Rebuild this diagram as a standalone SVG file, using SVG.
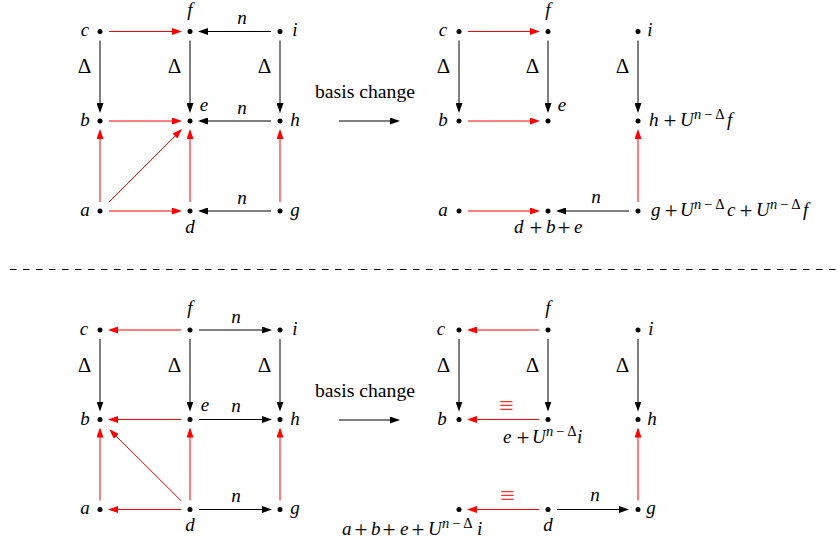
<svg xmlns="http://www.w3.org/2000/svg" width="838" height="546" viewBox="0 0 838 546">
<defs>
<style>
.m{font-family:"Liberation Serif",serif;font-style:italic;font-size:19px;fill:#000}
.r{font-family:"Liberation Serif",serif;font-size:19px;fill:#000}
.p{font-family:"Liberation Serif",serif;font-size:23px;fill:#000;text-anchor:middle}
.D{font-family:"Liberation Serif",serif;font-size:21px;fill:#000;text-anchor:middle}
.s{font-family:"Liberation Serif",serif;font-size:14.5px;fill:#000}
.c{text-anchor:middle}
.eq{font-family:"Liberation Serif",serif;font-size:26px;fill:#ff3030;text-anchor:middle}
.k{stroke:#000;stroke-width:1;fill:none;marker-end:url(#ab)}
.rd{stroke:#ff0000;stroke-width:1;fill:none;marker-end:url(#ar)}
.dot{fill:#000}
</style>
<marker id="ab" markerWidth="10" markerHeight="7" refX="8" refY="3.5" orient="auto" markerUnits="userSpaceOnUse"><path d="M0,0 L10,3.5 L0,7 z" fill="#000"/></marker>
<marker id="ar" markerWidth="10" markerHeight="7" refX="8" refY="3.5" orient="auto" markerUnits="userSpaceOnUse"><path d="M0,0 L10,3.5 L0,7 z" fill="#ff0000"/></marker>
</defs>

<g id="connectors">
<line class="rd" x1="109" y1="31.5" x2="180" y2="31.5"/>
<line class="k" x1="271" y1="31.5" x2="200" y2="31.5"/>
<line class="rd" x1="109" y1="121" x2="180" y2="121"/>
<line class="k" x1="271" y1="121" x2="200" y2="121"/>
<line class="rd" x1="109" y1="211" x2="180" y2="211"/>
<line class="k" x1="271" y1="211" x2="200" y2="211"/>
<line class="k" x1="100" y1="40.5" x2="100" y2="111"/>
<line class="k" x1="190" y1="40.5" x2="190" y2="111"/>
<line class="k" x1="280" y1="40.5" x2="280" y2="111"/>
<line class="rd" x1="100" y1="202" x2="100" y2="131"/>
<line class="rd" x1="190" y1="202" x2="190" y2="131"/>
<line class="rd" x1="280" y1="202" x2="280" y2="131"/>
<line class="rd" x1="109" y1="202" x2="180.6" y2="130.4"/>
<line class="k" x1="339" y1="121" x2="398" y2="121"/>
<line class="rd" x1="468" y1="31.5" x2="538" y2="31.5"/>
<line class="k" x1="459" y1="40.5" x2="459" y2="111"/>
<line class="k" x1="548" y1="40.5" x2="548" y2="111"/>
<line class="k" x1="638" y1="40.5" x2="638" y2="111"/>
<line class="rd" x1="468" y1="121" x2="538" y2="121"/>
<line class="rd" x1="638" y1="202" x2="638" y2="131"/>
<line class="rd" x1="468" y1="211" x2="538" y2="211"/>
<line class="k" x1="629" y1="211" x2="558" y2="211"/>
<line x1="10" y1="269.5" x2="838" y2="269.5" stroke="#000" stroke-width="1" stroke-dasharray="6.5 6.5"/>
<line class="rd" x1="181" y1="330" x2="110" y2="330"/>
<line class="k" x1="199" y1="330" x2="270" y2="330"/>
<line class="k" x1="100" y1="339" x2="100" y2="409.5"/>
<line class="k" x1="190" y1="339" x2="190" y2="409.5"/>
<line class="k" x1="280" y1="339" x2="280" y2="409.5"/>
<line class="rd" x1="181" y1="419.5" x2="110" y2="419.5"/>
<line class="k" x1="199" y1="419.5" x2="270" y2="419.5"/>
<line class="rd" x1="100" y1="500.5" x2="100" y2="429.5"/>
<line class="rd" x1="190" y1="500.5" x2="190" y2="429.5"/>
<line class="rd" x1="280" y1="500.5" x2="280" y2="429.5"/>
<line class="rd" x1="181" y1="500.7" x2="110.7" y2="430.7"/>
<line class="rd" x1="181" y1="509.5" x2="110" y2="509.5"/>
<line class="k" x1="199" y1="509.5" x2="270" y2="509.5"/>
<line class="k" x1="339" y1="420" x2="398" y2="420"/>
<line class="rd" x1="539" y1="330" x2="469" y2="330"/>
<line class="k" x1="459" y1="339" x2="459" y2="409.5"/>
<line class="k" x1="548" y1="339" x2="548" y2="409.5"/>
<line class="k" x1="638" y1="339" x2="638" y2="409.5"/>
<line class="rd" x1="539" y1="419.5" x2="469" y2="419.5"/>
<line class="rd" x1="638" y1="500.5" x2="638" y2="429.5"/>
<line class="rd" x1="539" y1="509.5" x2="469" y2="509.5"/>
<line class="k" x1="557" y1="509.5" x2="627" y2="509.5"/>
</g>

<g id="edge-labels">
<text class="D" x="84.5" y="73">Δ</text>
<text class="D" x="174.5" y="73">Δ</text>
<text class="D" x="264.5" y="73">Δ</text>
<text class="m c" x="242" y="24">n</text>
<text class="m c" x="242" y="114">n</text>
<text class="m c" x="242" y="204">n</text>
<text class="D" x="443.5" y="73">Δ</text>
<text class="D" x="532.5" y="73">Δ</text>
<text class="D" x="622.5" y="73">Δ</text>
<text class="m c" x="596" y="203">n</text>
<text class="D" x="84.5" y="372">Δ</text>
<text class="D" x="174.5" y="372">Δ</text>
<text class="D" x="264.5" y="372">Δ</text>
<text class="m c" x="236" y="323">n</text>
<text class="m c" x="236" y="412">n</text>
<text class="m c" x="236" y="502">n</text>
<text class="D" x="443.5" y="372">Δ</text>
<text class="D" x="532.5" y="372">Δ</text>
<text class="D" x="622.5" y="372">Δ</text>
<text class="m c" x="595" y="501">n</text>
<text class="eq" x="506.5" y="414">≡</text>
<text class="eq" x="507.5" y="504">≡</text>
<text class="r c" x="365" y="98" textLength="100" lengthAdjust="spacingAndGlyphs">basis change</text>
<text class="r c" x="365" y="397" textLength="100" lengthAdjust="spacingAndGlyphs">basis change</text>
</g>

<g id="TL-c"><circle class="dot" cx="100" cy="31.5" r="2.5"/><text class="m c" x="85" y="36">c</text></g>
<g id="TL-f"><circle class="dot" cx="190" cy="31.5" r="2.5"/><text class="m c" x="190" y="16">f</text></g>
<g id="TL-i"><circle class="dot" cx="280" cy="31.5" r="2.5"/><text class="m c" x="295" y="36">i</text></g>
<g id="TL-b"><circle class="dot" cx="100" cy="121" r="2.5"/><text class="m c" x="85" y="126">b</text></g>
<g id="TL-e"><circle class="dot" cx="190" cy="121" r="2.5"/><text class="m c" x="204" y="111">e</text></g>
<g id="TL-h"><circle class="dot" cx="280" cy="121" r="2.5"/><text class="m c" x="295" y="126">h</text></g>
<g id="TL-a"><circle class="dot" cx="100" cy="211" r="2.5"/><text class="m c" x="85" y="216">a</text></g>
<g id="TL-d"><circle class="dot" cx="190" cy="211" r="2.5"/><text class="m c" x="190" y="233">d</text></g>
<g id="TL-g"><circle class="dot" cx="280" cy="211" r="2.5"/><text class="m c" x="295" y="216">g</text></g>

<g id="TR-c"><circle class="dot" cx="459" cy="31.5" r="2.5"/><text class="m c" x="443" y="36">c</text></g>
<g id="TR-f"><circle class="dot" cx="548" cy="31.5" r="2.5"/><text class="m c" x="548" y="16">f</text></g>
<g id="TR-i"><circle class="dot" cx="638" cy="31.5" r="2.5"/><text class="m c" x="650" y="36">i</text></g>
<g id="TR-b"><circle class="dot" cx="459" cy="121" r="2.5"/><text class="m c" x="443" y="126">b</text></g>
<g id="TR-e"><circle class="dot" cx="548" cy="121" r="2.5"/><text class="m c" x="562" y="111">e</text></g>
<g id="TR-h"><circle class="dot" cx="638" cy="121" r="2.5"/>
<text class="m" x="649" y="126">h</text><text class="p" x="670" y="128">+</text><text class="m" x="680" y="126">U</text>
<text class="s" x="694" y="119" font-style="italic">n</text><text class="s c" x="708" y="119">−</text><text class="s c" x="720" y="119">Δ</text>
<text class="m" x="727" y="126">f</text></g>
<g id="TR-a"><circle class="dot" cx="459" cy="211" r="2.5"/><text class="m c" x="443" y="216">a</text></g>
<g id="TR-d"><circle class="dot" cx="548" cy="211" r="2.5"/>
<text class="m" x="514" y="233">d</text><text class="p" x="536" y="235">+</text><text class="m" x="546" y="233">b</text><text class="p" x="564" y="235">+</text><text class="m" x="574" y="233">e</text></g>
<g id="TR-g"><circle class="dot" cx="638" cy="211" r="2.5"/>
<text class="m" x="651" y="216">g</text><text class="p" x="671" y="218">+</text><text class="m" x="680" y="216">U</text>
<text class="s" x="694" y="209" font-style="italic">n</text><text class="s c" x="708" y="209">−</text><text class="s c" x="720" y="209">Δ</text>
<text class="m" x="727" y="216">c</text><text class="p" x="746" y="218">+</text><text class="m" x="756" y="216">U</text>
<text class="s" x="770" y="209" font-style="italic">n</text><text class="s c" x="784" y="209">−</text><text class="s c" x="796" y="209">Δ</text>
<text class="m" x="803" y="216">f</text></g>

<g id="BL-c"><circle class="dot" cx="100" cy="330" r="2.5"/><text class="m c" x="84" y="334.5">c</text></g>
<g id="BL-f"><circle class="dot" cx="190" cy="330" r="2.5"/><text class="m c" x="190" y="314">f</text></g>
<g id="BL-i"><circle class="dot" cx="280" cy="330" r="2.5"/><text class="m c" x="295" y="334.5">i</text></g>
<g id="BL-b"><circle class="dot" cx="100" cy="419.5" r="2.5"/><text class="m c" x="85" y="424.5">b</text></g>
<g id="BL-e"><circle class="dot" cx="190" cy="419.5" r="2.5"/><text class="m c" x="205" y="411">e</text></g>
<g id="BL-h"><circle class="dot" cx="280" cy="419.5" r="2.5"/><text class="m c" x="295" y="424.5">h</text></g>
<g id="BL-a"><circle class="dot" cx="100" cy="509.5" r="2.5"/><text class="m c" x="85" y="514">a</text></g>
<g id="BL-d"><circle class="dot" cx="190" cy="509.5" r="2.5"/><text class="m c" x="190" y="531">d</text></g>
<g id="BL-g"><circle class="dot" cx="280" cy="509.5" r="2.5"/><text class="m c" x="295" y="514">g</text></g>

<g id="BR-c"><circle class="dot" cx="459" cy="330" r="2.5"/><text class="m c" x="441" y="334.5">c</text></g>
<g id="BR-f"><circle class="dot" cx="548" cy="330" r="2.5"/><text class="m c" x="548" y="314">f</text></g>
<g id="BR-i"><circle class="dot" cx="638" cy="330" r="2.5"/><text class="m c" x="651" y="334.5">i</text></g>
<g id="BR-b"><circle class="dot" cx="459" cy="419.5" r="2.5"/><text class="m c" x="442" y="424.5">b</text></g>
<g id="BR-e"><circle class="dot" cx="548" cy="419.5" r="2.5"/>
<text class="m" x="503" y="443">e</text><text class="p" x="523" y="445">+</text><text class="m" x="532" y="443">U</text>
<text class="s" x="546" y="436" font-style="italic">n</text><text class="s c" x="560" y="436">−</text><text class="s c" x="572" y="436">Δ</text>
<text class="m" x="577" y="443">i</text></g>
<g id="BR-h"><circle class="dot" cx="638" cy="419.5" r="2.5"/><text class="m c" x="652" y="424.5">h</text></g>
<g id="BR-a"><circle class="dot" cx="459" cy="509.5" r="2.5"/>
<text class="m" x="342" y="535">a</text><text class="p" x="361" y="537">+</text><text class="m" x="371" y="535">b</text><text class="p" x="389" y="537">+</text><text class="m" x="400" y="535">e</text><text class="p" x="418" y="537">+</text><text class="m" x="428" y="535">U</text>
<text class="s" x="442" y="528" font-style="italic">n</text><text class="s c" x="456" y="528">−</text><text class="s c" x="468" y="528">Δ</text>
<text class="m" x="477" y="535">i</text></g>
<g id="BR-d"><circle class="dot" cx="548" cy="509.5" r="2.5"/><text class="m c" x="548" y="531">d</text></g>
<g id="BR-g"><circle class="dot" cx="638" cy="509.5" r="2.5"/><text class="m c" x="651" y="514">g</text></g>
</svg>
